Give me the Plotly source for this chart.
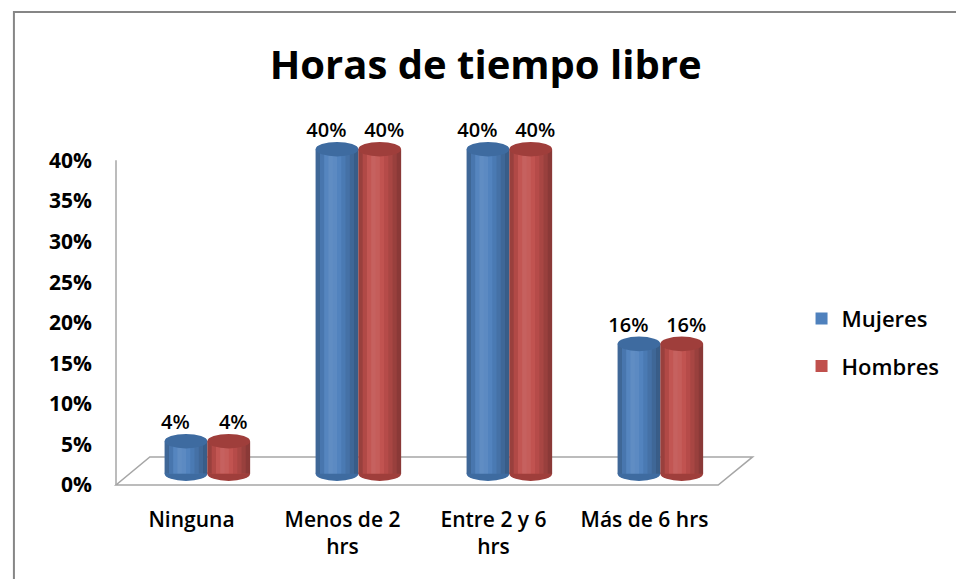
import plotly.graph_objects as go

# data
categorias = ["Ninguna", "Menos de 2<br>hrs", "Entre 2 y 6<br>hrs", "Más de 6 hrs"]
mujeres = [0.04, 0.40, 0.40, 0.16]
hombres = [0.04, 0.40, 0.40, 0.16]
y_ticks = [0, 0.05, 0.10, 0.15, 0.20, 0.25, 0.30, 0.35, 0.40]

FONT = "Open Sans"
ancho = 0.283      # bar width in category units
prof = 0.105       # depth shift of the 3d bars
base = 0.014       # bars are lifted onto the floor
cap = 0.009        # half height of the cylinder ellipse
# shading across the cylinder, left to right (+ white, - black)
sombra = [-0.20, -0.08, 0.04, 0.10, 0.08, 0.02, -0.05, -0.12, -0.20, -0.28]

series = [
    ("Mujeres", mujeres, "#4F81BD", "#3E6BA0", -ancho + prof, -0.07),
    ("Hombres", hombres, "#C0504D", "#9F3E3B", prof, 0.03),
]
xi = list(range(len(categorias)))

fig = go.Figure()
shapes = []

# chart frame and floor
shapes.append(dict(type="rect", xref="paper", yref="paper", x0=-0.169, x1=1.6,
                   y0=-0.6, y1=1.296, line=dict(color="#868686", width=2), layer="below"))
shapes.append(dict(type="path", xref="paper", yref="paper",
                   path="M 0 0 L 0.997 0 L 1.054 0.077 L 0.056 0.077 Z",
                   line=dict(color="#A6A6A6", width=1.5), layer="below"))
shapes.append(dict(type="line", xref="paper", yref="paper", x0=0, x1=0, y0=0, y1=0.89,
                   line=dict(color="#A6A6A6", width=1.5), layer="below"))

n = len(sombra)
for g, (nombre, vals, color, oscuro, off, dx) in enumerate(series):
    fig.add_bar(x=xi, y=vals, base=base, name=nombre, width=ancho, offset=off,
                marker=dict(color=color, line=dict(width=0)),
                legendgroup=nombre,
                hovertemplate="%{y:.0%}<extra>" + nombre + "</extra>")
    for k, s in enumerate(sombra):
        c = f"rgba(255,255,255,{s})" if s > 0 else f"rgba(0,0,0,{-s})"
        fig.add_bar(x=xi, y=vals, base=base, width=ancho / n * 1.02, offset=off + k * ancho / n,
                    marker=dict(color=c, line=dict(width=0)),
                    legendgroup=nombre, showlegend=False, hoverinfo="skip")
    # value labels above each cylinder
    fig.add_scatter(x=[i + off + ancho / 2 + dx for i in xi], y=[v + base + cap for v in vals],
                    mode="text", text=[f"{v:.0%}" for v in vals], textposition="top center",
                    textfont=dict(family=FONT, size=20, color="black", weight=600),
                    cliponaxis=False, legendgroup=nombre, showlegend=False, hoverinfo="skip")
    for i, v in zip(xi, vals):
        shapes.append(dict(type="circle", xref="x", yref="y", layer="below",
                           x0=i + off, x1=i + off + ancho, y0=base - cap, y1=base + cap,
                           fillcolor=oscuro, line=dict(width=0)))
        shapes.append(dict(type="circle", xref="x", yref="y", layer="above",
                           x0=i + off, x1=i + off + ancho, y0=base + v - cap, y1=base + v + cap,
                           fillcolor=oscuro, line=dict(width=0)))

fig.update_layout(
    barmode="overlay",
    width=956, height=579,
    margin=dict(l=116, r=232, t=120, b=94),
    paper_bgcolor="white", plot_bgcolor="white",
    title=dict(text="<b>Horas de tiempo libre</b>", x=0.508, xanchor="center",
               y=0.888, yanchor="middle", font=dict(family=FONT, size=40, color="black")),
    showlegend=True,
    legend=dict(x=1.135, xanchor="left", y=0.39, yanchor="middle",
                font=dict(family=FONT, size=22, color="black", weight=600),
                tracegroupgap=16, traceorder="grouped", itemwidth=30),
    shapes=shapes,
)
fig.update_xaxes(range=[-0.5, 3.5], tickvals=xi, ticktext=categorias,
                 showline=False, showgrid=False, zeroline=False,
                 ticks="", ticklabelstandoff=20,
                 tickfont=dict(family=FONT, size=21, color="black", weight=600))
fig.update_yaxes(range=[0, 0.45], tickvals=y_ticks, tickformat=".0%",
                 showline=False, showgrid=False, zeroline=False,
                 ticks="", ticklabelstandoff=23,
                 tickfont=dict(family=FONT, size=21, color="black", weight="bold"))

fig.write_html("out.html", config={"displayModeBar": False},
               post_script="document.body.style.margin='0';")
